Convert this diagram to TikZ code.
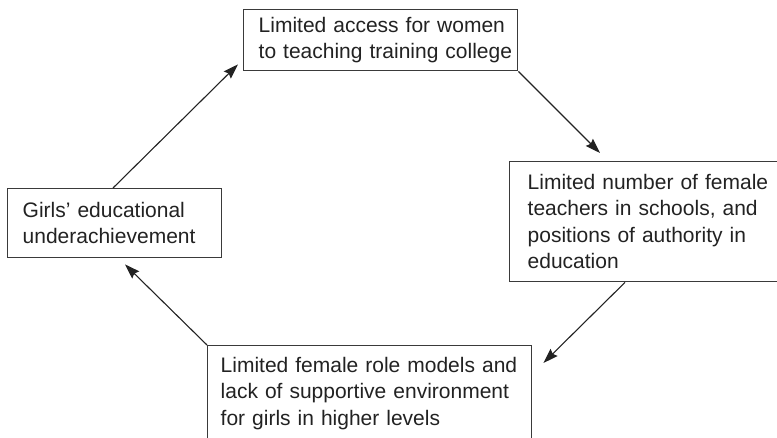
\documentclass[tikz,border=0pt]{standalone}
\usepackage{fontspec}
\setmainfont{Liberation Sans}
\usetikzlibrary{arrows.meta}
\definecolor{ink}{HTML}{222222}
\definecolor{frame}{HTML}{3A3A3A}
\tikzset{
  box/.style={draw=frame, line width=1.4pt, anchor=north west, align=left,
    font=\fontsize{21pt}{26.5pt}\selectfont, text=ink, inner ysep=0pt},
  arr/.style={draw=ink, line width=1.1pt, -{Stealth[length=15pt,width=10pt,inset=2pt]}}
}
\begin{document}
\begin{tikzpicture}[x=1pt,y=-1pt]
\useasboundingbox (0,0) rectangle (777,438);
\node[box, inner xsep=15pt, text width=244pt, minimum height=61pt] (top) at (243,9)
  {\mbox{Limited access for women}\\\mbox{to teaching training college}};
\node[box, inner xsep=18pt, text width=240pt, minimum height=120pt] (right) at (509,161)
  {\mbox{Limited number of female}\\\mbox{teachers in schools, and}\\\mbox{positions of authority in}\\\mbox{education}};
\node[box, inner xsep=15pt, text width=184pt, minimum height=69pt] (left) at (7,188)
  {\mbox{Girls' educational}\\\mbox{underachievement}};
\node[box, inner xsep=13pt, text width=298pt, minimum height=95pt] (bottom) at (207,345)
  {\mbox{Limited female role models and}\\\mbox{lack of supportive environment}\\\mbox{for girls in higher levels}};
\draw[arr] ([xshift=106pt]left.north west) -- ([xshift=-5pt,yshift=7pt]top.south west);
\draw[arr] (top.south east) -- ([xshift=91pt,yshift=8pt]right.north west);
\draw[arr] ([xshift=116pt]right.south west) -- ([xshift=11pt,yshift=-18pt]bottom.north east);
\draw[arr] (bottom.north west) -- ([xshift=118pt,yshift=-6pt]left.south west);
\end{tikzpicture}
\end{document}
